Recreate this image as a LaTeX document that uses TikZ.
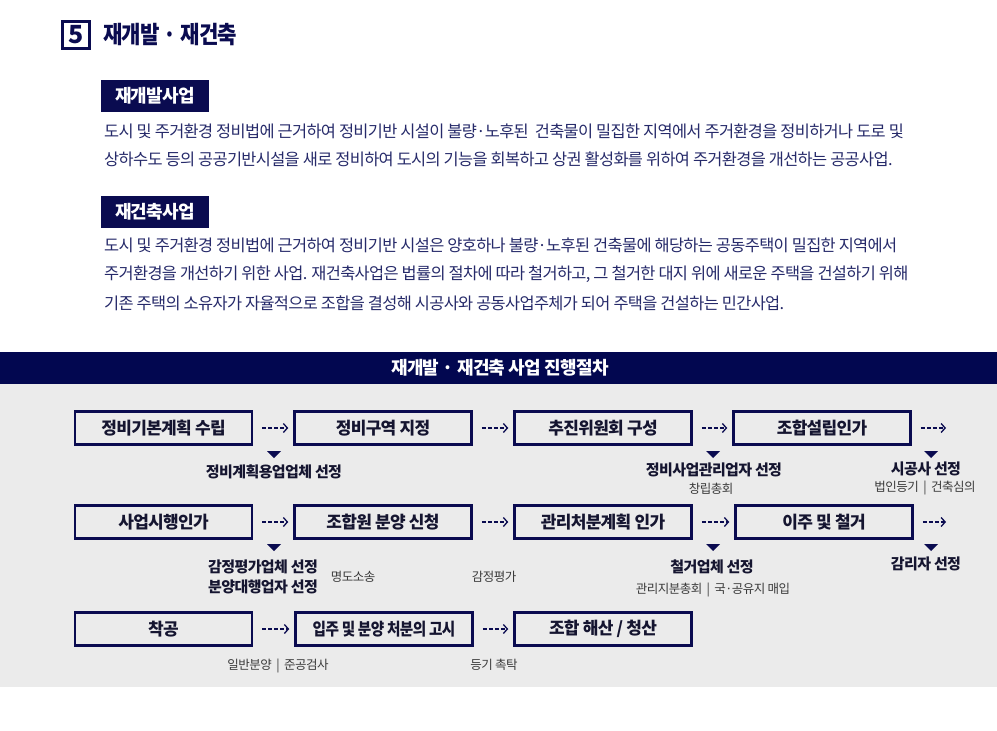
\documentclass[tikz,border=0pt]{standalone}
\usepackage{fontspec}
\setmainfont[LetterSpace=-4]{Noto Sans CJK KR}
\usetikzlibrary{arrows.meta}
\definecolor{darknavy}{HTML}{0A0B50}
\definecolor{bannerblue}{HTML}{020750}
\definecolor{paratext}{HTML}{262A6A}
\definecolor{boxtext}{HTML}{151530}
\definecolor{graybg}{HTML}{EBEBEB}
\definecolor{subtext}{HTML}{3A3A3A}
\tikzset{
  stepbox/.style={draw=darknavy, line width=2.5pt, fill=graybg, minimum width=177pt, minimum height=33pt, inner sep=0pt, font=\bfseries\fontsize{17}{17}\selectfont, text=boxtext},
  flow/.style={darknavy, line width=1.3pt, dash pattern=on 4pt off 2pt, -{Straight Barb[length=4pt,width=9pt]}, shorten <=9pt, shorten >=5pt},
  tagbox/.style={fill=darknavy, minimum width=108pt, minimum height=32pt, inner sep=0pt, text=white, font=\bfseries\fontsize{18}{18}\selectfont},
  para/.style={anchor=west, inner sep=0pt, text=paratext, font=\fontsize{16.4}{18}\selectfont},
  pick/.style={inner sep=0pt, text=boxtext, font=\bfseries\fontsize{15}{20}\selectfont, align=center},
  sub/.style={inner sep=0pt, text=subtext, font=\fontsize{12.5}{14}\selectfont}
}
\begin{document}
\begin{tikzpicture}[x=1pt,y=-1pt]
\useasboundingbox (0,0) rectangle (997,731);
\fill[white] (0,0) rectangle (997,731);

\node[draw=darknavy, line width=2.2pt, minimum width=27pt, minimum height=27pt, inner sep=0pt, text=darknavy, font=\bfseries\fontsize{25}{25}\selectfont] (num) at (76,35) {5};
\node[anchor=west, inner sep=0pt, text=darknavy, font=\bfseries\fontsize{24}{24}\selectfont] (title) at (103,35) {\scalebox{0.88}[1]{재개발 · 재건축}};

\node[tagbox] (redev) at (155,96) {재개발사업};
\node[para] (r1) at (104,131) {도시 및 주거환경 정비법에 근거하여 정비기반 시설이 불량·노후된~ 건축물이 밀집한 지역에서 주거환경을 정비하거나 도로 및};
\node[para] (r2) at (104,159) {상하수도 등의 공공기반시설을 새로 정비하여 도시의 기능을 회복하고 상권 활성화를 위하여 주거환경을 개선하는 공공사업.};

\node[tagbox] (rebuild) at (155,212) {재건축사업};
\node[para] (s1) at (104,245) {도시 및 주거환경 정비법에 근거하여 정비기반 시설은 양호하나 불량·노후된 건축물에 해당하는 공동주택이 밀집한 지역에서};
\node[para] (s2) at (104,274) {주거환경을 개선하기 위한 사업. 재건축사업은 법률의 절차에 따라 철거하고, 그 철거한 대지 위에 새로운 주택을 건설하기 위해};
\node[para] (s3) at (104,303) {기존 주택의 소유자가 자율적으로 조합을 결성해 시공사와 공동사업주체가 되어 주택을 건설하는 민간사업.};

\fill[bannerblue] (0,352) rectangle (997,384);
\node[text=white, font=\bfseries\fontsize{18}{18}\selectfont] (banner) at (500,368) {재개발 · 재건축 사업 진행절차};
\fill[graybg] (0,384) rectangle (997,687);

\node[stepbox] (a1) at (163.5,428) {정비기본계획 수립};
\node[stepbox] (a2) at (383,428) {정비구역 지정};
\node[stepbox] (a3) at (603,428) {추진위원회 구성};
\node[stepbox] (a4) at (822,428) {조합설립인가};
\coordinate (a5) at (946,428);

\node[stepbox] (b1) at (163.5,522) {사업시행인가};
\node[stepbox] (b2) at (383,522) {조합원 분양 신청};
\node[stepbox] (b3) at (603,522) {관리처분계획 인가};
\node[stepbox] (b4) at (824,522) {이주 및 철거};
\coordinate (b5) at (946,522);

\node[stepbox] (c1) at (163.5,629) {착공};
\node[stepbox] (c2) at (384,629) {\scalebox{0.86}[1]{입주 및 분양 처분의 고시}};
\node[stepbox] (c3) at (603,629) {조합 해산 / 청산};

\draw[flow] (a1) -- (a2);
\draw[flow] (a2) -- (a3);
\draw[flow] (a3) -- (a4);
\draw[flow, shorten >=0pt] (a4) -- (a5);
\draw[flow] (b1) -- (b2);
\draw[flow] (b2) -- (b3);
\draw[flow] (b3) -- (b4);
\draw[flow, shorten >=0pt] (b4) -- (b5);
\draw[flow] (c1) -- (c2);
\draw[flow] (c2) -- (c3);

\foreach \x/\y in {274/451,713/451,931/451,274/544,713/544,931/544}
  \fill[darknavy] (\x-7,\y) -- (\x+7,\y) -- (\x,\y+7) -- cycle;

\node[pick] (p1) at (274,472) {정비계획용업업체 선정};
\node[pick] (p2) at (714,470) {정비사업관리업자 선정};
\node[sub] (q2) at (711,489) {창립총회};
\node[pick] (p3) at (926,469) {시공사 선정};
\node[sub] (q3) at (925,488) {법인등기 \,|\, 건축심의};

\node[pick] (p4) at (263,577) {감정평가업체 선정\\분양대행업자 선정};
\node[sub] (q4) at (353,577) {명도소송};
\node[sub] (q5) at (494,577) {감정평가};
\node[pick] (p5) at (712,567) {철거업체 선정};
\node[sub] (q6) at (713,590) {관리지분총회 \,|\, 국·공유지 매입};
\node[pick] (p6) at (926,564) {감리자 선정};

\node[sub] (q7) at (278,666) {일반분양 \,|\, 준공검사};
\node[sub] (q8) at (494,665) {등기 촉탁};
\end{tikzpicture}
\end{document}
